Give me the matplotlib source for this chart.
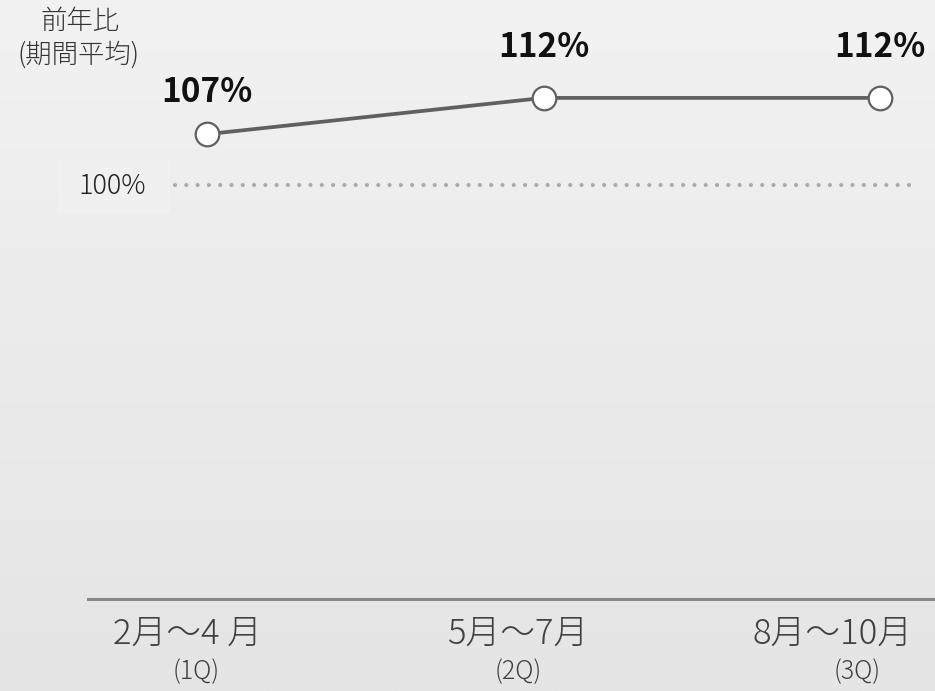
import numpy as np
import matplotlib
matplotlib.use("Agg")
import matplotlib.pyplot as plt
from matplotlib.colors import LinearSegmentedColormap
from matplotlib.patches import Rectangle

plt.rcParams['font.family'] = ['Noto Sans CJK JP', 'DejaVu Sans']

# ---- data ----
periods = ["2月～4 月", "5月～7月", "8月～10月"]
quarters = ["(1Q)", "(2Q)", "(3Q)"]
values = [107, 112, 112]
value_labels = ["107%", "112%", "112%"]
baseline = 100
baseline_label = "100%"
ylabel_lines = ["前年比", "(期間平均)"]

W, H = 935, 691
fig = plt.figure(figsize=(W / 100, H / 100), dpi=100)

# gradient background
bg = fig.add_axes([0, 0, 1, 1], zorder=-10)
cmap = LinearSegmentedColormap.from_list("bg", ["#f2f2f2", "#ebebeb", "#e5e5e5"])
grad = np.linspace(0, 1, 256).reshape(-1, 1)
bg.imshow(grad, aspect="auto", cmap=cmap, extent=[0, 1, 0, 1], origin="upper")
bg.add_patch(Rectangle((57 / W, 1 - 213 / H), 113 / W, 53 / H, transform=bg.transAxes,
                       facecolor="#f0f0f0", edgecolor="none", zorder=2))
bg.set_xlim(0, 1)
bg.set_ylim(0, 1)
bg.axis("off")

# plot axes (pixel layout)
left_px, right_px, top_px, bottom_px = 88, 935, 0, 599
ax = fig.add_axes([left_px / W, (H - bottom_px) / H, (right_px - left_px) / W, (bottom_px - top_px) / H])
ax.set_facecolor("none")

px_per_x = 336.5
x0_px = 207
ax.set_xlim((left_px - x0_px) / px_per_x, (right_px - x0_px) / px_per_x)
ax.set_ylim(42.9, 125.5)

x = np.arange(len(values))

# baseline dotted line
ax.plot([(175 - x0_px) / px_per_x, (915 - x0_px) / px_per_x], [baseline, baseline],
        color="#aaaaaa", lw=3.0, linestyle=(0, (0.01, 2.7)), solid_capstyle="round",
        dash_capstyle="round", zorder=1)
fig.text(112 / W, 1 - 186 / H, baseline_label, ha="center", va="center",
         fontsize=19.5, color="#222222", fontweight="light")

# main line
ax.plot(x, values, color="#606060", lw=2.7, marker="o", markersize=17,
        markerfacecolor="white", markeredgecolor="#606060", markeredgewidth=1.6,
        zorder=3, clip_on=False)

label_offsets = [30, 36, 36]
for xi, v, lab, off in zip(x, values, value_labels, label_offsets):
    ax.annotate(lab, (xi, v), xytext=(0, off), textcoords="offset points",
                ha="center", va="center", fontsize=24, fontweight="bold", color="#111111")

for s in ["top", "right", "left"]:
    ax.spines[s].set_visible(False)
ax.spines["bottom"].set_color("#888888")
ax.spines["bottom"].set_linewidth(2.2)
ax.set_yticks([])
ax.set_xticks([])

# category labels
label_px = [187, 518, 833]
sub_px = [196, 518, 857]
for lp, sp, p, q in zip(label_px, sub_px, periods, quarters):
    fig.text(lp / W, 1 - 634 / H, p, ha="center", va="center", fontsize=25,
             color="#404040", fontweight="light")
    fig.text(sp / W, 1 - 672 / H, q, ha="center", va="center", fontsize=18,
             color="#404040", fontweight="light")

fig.text(80 / W, 1 - 21 / H, ylabel_lines[0], ha="center", va="center", fontsize=19,
         color="#333333", fontweight="light")
fig.text(79 / W, 1 - 55 / H, ylabel_lines[1], ha="center", va="center", fontsize=19,
         color="#333333", fontweight="light")

fig.savefig("out.png", dpi=100)
